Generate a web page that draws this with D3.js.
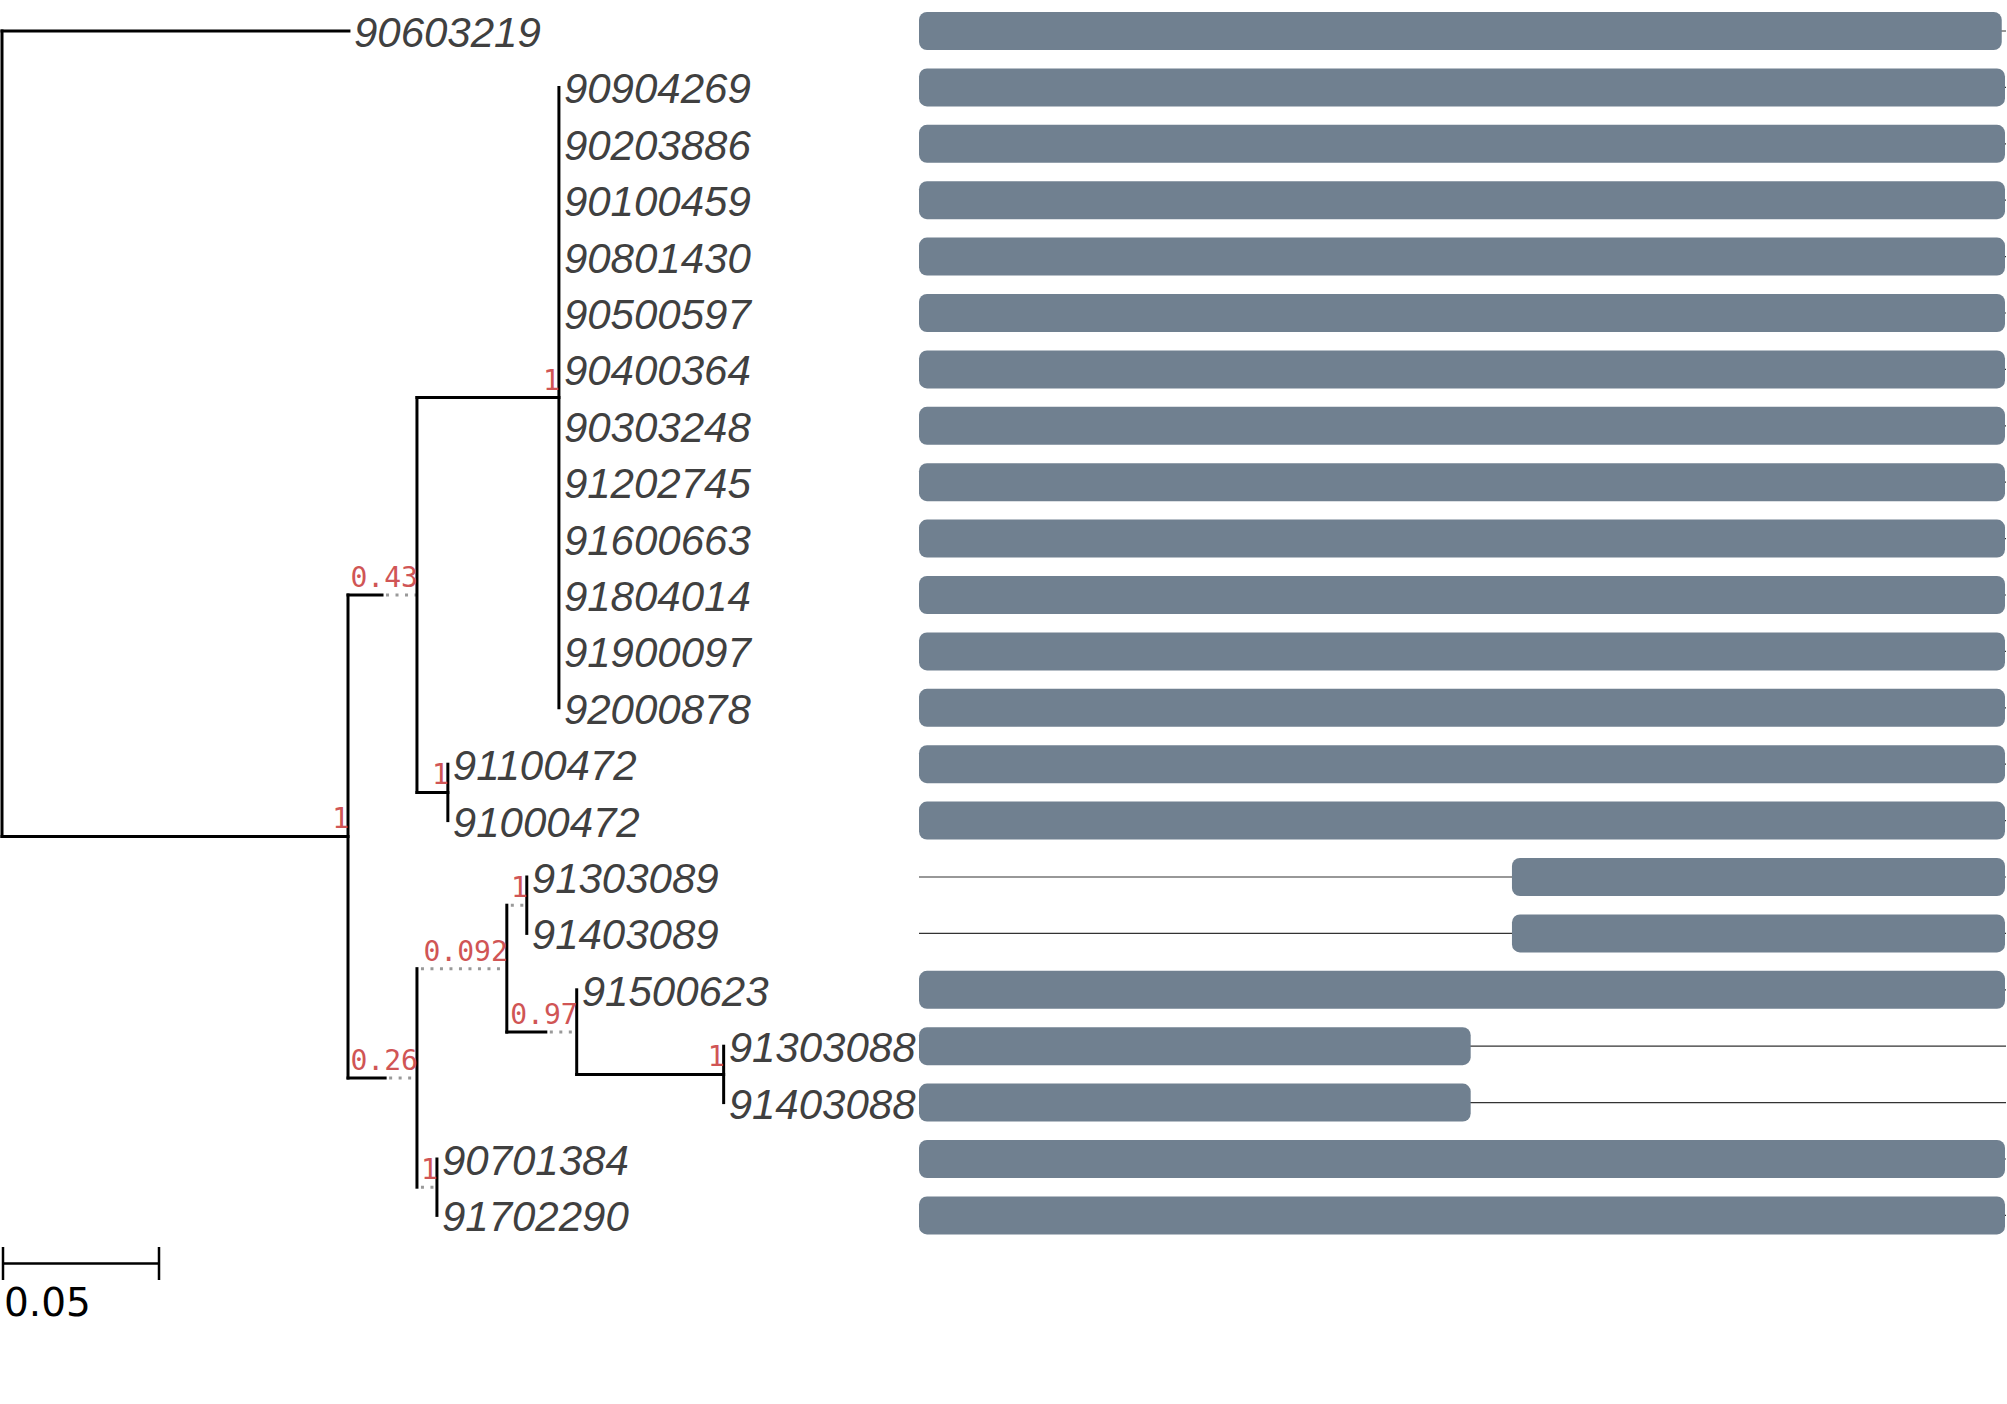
<!DOCTYPE html>
<html>
<head>
<meta charset="utf-8">
<script src="https://cdn.jsdelivr.net/npm/d3@7"></script>
<style>
  html, body { margin: 0; padding: 0; background: #fff; }
  svg { display: block; }
</style>
</head>
<body>
<svg id="chart" width="2007" height="1404"></svg>
<script>
// ---- DATA ----
// tree edges: [node, parent, branch length, solid part of branch]
const treeNodes = [
  ["root", "", 0, 0],
  ["90603219", "root", 0.1112, 0.1112],
  ["A", "root", 0.1109, 0.1109],
  ["B", "A", 0.0221, 0.0109],
  ["K", "B", 0.0455, 0.0455],
  ["90904269", "K", 0, 0], ["90203886", "K", 0, 0], ["90100459", "K", 0, 0],
  ["90801430", "K", 0, 0], ["90500597", "K", 0, 0], ["90400364", "K", 0, 0],
  ["90303248", "K", 0, 0], ["91202745", "K", 0, 0], ["91600663", "K", 0, 0],
  ["91804014", "K", 0, 0], ["91900097", "K", 0, 0], ["92000878", "K", 0, 0],
  ["P", "B", 0.0099, 0.0099],
  ["91100472", "P", 0, 0], ["91000472", "P", 0, 0],
  ["C", "A", 0.0221, 0.0119],
  ["D", "C", 0.0288, 0],
  ["E", "D", 0.0064, 0],
  ["91303089", "E", 0, 0], ["91403089", "E", 0, 0],
  ["F", "D", 0.0224, 0.0125],
  ["91500623", "F", 0, 0],
  ["G", "F", 0.0471, 0.0471],
  ["91303088", "G", 0, 0], ["91403088", "G", 0, 0],
  ["H", "C", 0.0064, 0],
  ["90701384", "H", 0, 0], ["91702290", "H", 0, 0]
];
// node support values
const supports = [
  ["A", "1"], ["B", "0.43"], ["K", "1"], ["P", "1"], ["C", "0.26"],
  ["D", "0.092"], ["E", "1"], ["F", "0.97"], ["G", "1"], ["H", "1"]
];
// leaf order (top to bottom)
const leafOrder = [
  "90603219", "90904269", "90203886", "90100459", "90801430", "90500597",
  "90400364", "90303248", "91202745", "91600663", "91804014", "91900097",
  "92000878", "91100472", "91000472", "91303089", "91403089", "91500623",
  "91303088", "91403088", "90701384", "91702290"
];
// alignment coverage per leaf (positions out of 1000)
const barStart = [0,0,0,0,0,0,0,0,0,0,0,0,0,0,0,546,546,0,0,0,0,0];
const barEnd   = [997,1000,1000,1000,1000,1000,1000,1000,1000,1000,1000,1000,1000,1000,1000,1000,1000,1000,508,508,1000,1000];
const seqLength = 1000;
const scaleBarValue = 0.05;

// ---- LAYOUT ----
const svg = d3.select("#chart");
const x = d3.scaleLinear().domain([0, 0.05]).range([2, 158]);
const y = d3.scaleLinear().domain([0, leafOrder.length - 1]).range([31, 1215.4]);
const xa = d3.scaleLinear().domain([0, seqLength]).range([919, 2005]);

const root = d3.stratify()
  .id(d => d[0])
  .parentId(d => d[1] === "" ? null : d[1])(treeNodes);

root.each(n => { n.len = n.data[2]; n.solid = n.data[3]; });
root.eachBefore(n => { n.depthLen = n.parent ? n.parent.depthLen + n.len : 0; });
root.eachAfter(n => {
  if (!n.children) n.yv = y(leafOrder.indexOf(n.id));
  else n.yv = d3.mean(n.children, c => c.yv);
});
const supportMap = new Map(supports);

const gTree = svg.append("g");
// horizontal edges
root.descendants().filter(n => n.parent && n.len > 0).forEach(n => {
  const x0 = x(n.parent.depthLen), x1 = x(n.depthLen), xs = x(n.parent.depthLen + n.solid);
  if (n.solid > 0) {
    gTree.append("line").attr("x1", x0).attr("x2", xs).attr("y1", n.yv).attr("y2", n.yv)
      .attr("stroke", "#000").attr("stroke-width", 3).attr("stroke-linecap", "square");
  }
  if (n.solid < n.len) {
    gTree.append("line").attr("x1", xs + 4).attr("x2", x1).attr("y1", n.yv).attr("y2", n.yv)
      .attr("stroke", "#999").attr("stroke-width", 3).attr("stroke-dasharray", "3 6.5");
  }
});
// vertical connectors
root.descendants().filter(n => n.children).forEach(n => {
  const ys = n.children.map(c => c.yv);
  gTree.append("line").attr("x1", x(n.depthLen)).attr("x2", x(n.depthLen))
    .attr("y1", d3.min(ys)).attr("y2", d3.max(ys))
    .attr("stroke", "#000").attr("stroke-width", 3).attr("stroke-linecap", "square");
});
// support labels
root.descendants().filter(n => supportMap.has(n.id)).forEach(n => {
  gTree.append("text").attr("x", x(n.depthLen) + 1).attr("y", n.yv - 8)
    .attr("text-anchor", "end")
    .attr("font-family", "DejaVu Sans Mono").attr("font-size", 28)
    .attr("fill", "#d05555").text(supportMap.get(n.id));
});
// leaf labels
root.leaves().forEach(n => {
  gTree.append("text").attr("x", x(n.depthLen) + 5).attr("y", n.yv + 16)
    .attr("font-family", "Liberation Sans").attr("font-style", "italic")
    .attr("font-size", 42).attr("fill", "#404040").text(n.id);
});

// alignment bars
const gBars = svg.append("g");
leafOrder.forEach((name, i) => {
  gBars.append("line").attr("x1", xa(0)).attr("x2", xa(seqLength) + 1)
    .attr("y1", y(i)).attr("y2", y(i)).attr("stroke", "#333").attr("stroke-width", 1.2);
});
leafOrder.forEach((name, i) => {
  gBars.append("rect").attr("x", xa(barStart[i])).attr("width", xa(barEnd[i]) - xa(barStart[i]))
    .attr("y", y(i) - 19).attr("height", 38).attr("rx", 8).attr("ry", 8)
    .attr("fill", "#708090");
});

// scale bar
const sb = svg.append("g");
const sbY = 1263.5;
sb.append("line").attr("x1", x(0) + 1).attr("x2", x(scaleBarValue) + 1).attr("y1", sbY).attr("y2", sbY)
  .attr("stroke", "#000").attr("stroke-width", 2.5);
[x(0) + 1, x(scaleBarValue) + 1].forEach(px => {
  sb.append("line").attr("x1", px).attr("x2", px).attr("y1", 1247).attr("y2", 1280)
    .attr("stroke", "#000").attr("stroke-width", 2.5);
});
sb.append("text").attr("x", 4).attr("y", 1316).attr("font-family", "DejaVu Sans")
  .attr("font-size", 39).attr("fill", "#000").text(String(scaleBarValue));
</script>
</body>
</html>
